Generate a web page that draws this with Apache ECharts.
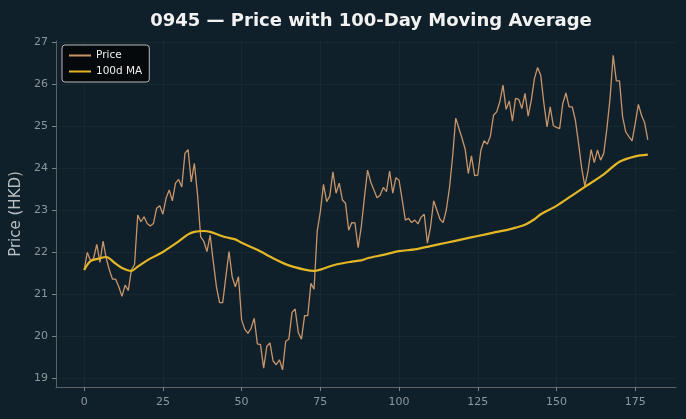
<!DOCTYPE html>
<html>
<head>
<meta charset="utf-8">
<script src="https://cdn.jsdelivr.net/npm/echarts@6/dist/echarts.min.js"></script>
<style>
  html, body { margin: 0; padding: 0; background: #10202a; }
  #chart { width: 686px; height: 419px; }
</style>
</head>
<body>
<div id="chart"></div>
<script>
// closing prices, one per trading day (index 0..179)
var price = [
  21.57, 21.99, 21.79, 21.85, 22.18, 21.75, 22.26, 21.85, 21.57, 21.35,
  21.35, 21.17, 20.94, 21.21, 21.08, 21.57, 21.70, 22.88, 22.72, 22.84,
  22.68, 22.62, 22.68, 23.04, 23.10, 22.90, 23.28, 23.48, 23.22, 23.64,
  23.73, 23.55, 24.35, 24.44, 23.67, 24.11, 23.36, 22.36, 22.25, 22.01,
  22.40, 21.77, 21.17, 20.79, 20.79, 21.41, 22.01, 21.41, 21.17, 21.41,
  20.38, 20.16, 20.06, 20.18, 20.42, 19.81, 19.79, 19.23, 19.75, 19.83,
  19.40, 19.31, 19.43, 19.19, 19.87, 19.92, 20.56, 20.64, 20.08, 19.92,
  20.48, 20.48, 21.25, 21.11, 22.49, 22.96, 23.61, 23.20, 23.33, 23.91,
  23.40, 23.64, 23.24, 23.16, 22.52, 22.70, 22.69, 22.10, 22.60, 23.30,
  23.95, 23.67, 23.48, 23.29, 23.35, 23.54, 23.44, 23.93, 23.40, 23.77,
  23.71, 23.24, 22.76, 22.80, 22.70, 22.76, 22.67, 22.83, 22.90, 22.21,
  22.60, 23.22, 23.00, 22.78, 22.70, 23.00, 23.52, 24.27, 25.19, 24.95,
  24.71, 24.45, 23.87, 24.29, 23.82, 23.83, 24.43, 24.65, 24.57, 24.76,
  25.26, 25.34, 25.58, 25.98, 25.40, 25.60, 25.12, 25.66, 25.64, 25.42,
  25.78, 25.24, 25.62, 26.14, 26.40, 26.21, 25.54, 24.98, 25.46, 25.01,
  24.97, 24.94, 25.54, 25.79, 25.46, 25.46, 25.14, 24.59, 24.00, 23.57,
  23.93, 24.44, 24.13, 24.43, 24.19, 24.35, 24.94, 25.66, 26.69, 26.08,
  26.08, 25.22, 24.86, 24.75, 24.65, 25.06, 25.52, 25.26, 25.08, 24.67
];

// 100-day moving average at these day indices
var maDays = [0, 2, 5, 7, 10, 12, 15, 17, 20, 25, 30, 33, 35, 38, 40, 43, 45, 48, 50, 55,
  60, 65, 70, 73, 75, 80, 85, 88, 90, 95, 100, 105, 110, 115, 120, 125, 130, 135, 137, 140,
  143, 145, 150, 155, 159, 165, 170, 175, 179];
var maValues = [21.57, 21.78, 21.85, 21.88, 21.72, 21.62, 21.55, 21.65, 21.80, 22.00,
  22.25, 22.42, 22.48, 22.50, 22.48, 22.40, 22.35, 22.30, 22.22, 22.05,
  21.85, 21.68, 21.58, 21.55, 21.58, 21.70, 21.77, 21.80, 21.85, 21.93,
  22.02, 22.06, 22.14, 22.22, 22.30, 22.38, 22.46, 22.54, 22.58, 22.65,
  22.78, 22.90, 23.10, 23.35, 23.55, 23.85, 24.15, 24.28, 24.32];

var xTicks = [0, 25, 50, 75, 100, 125, 150, 175];
var yTicks = [19, 20, 21, 22, 23, 24, 25, 26, 27];

var priceData = price.map(function (v, i) { return [i, v]; });
var maData = maDays.map(function (d, i) { return [d, maValues[i]]; });

var chart = echarts.init(document.getElementById('chart'));
var axisGray = '#8c979c';
var option = {
  backgroundColor: '#10202a',
  animation: false,
  textStyle: { fontFamily: 'DejaVu Sans' },
  title: {
    text: '0945 — Price with 100-Day Moving Average',
    left: 366,
    textAlign: 'center',
    top: 7,
    textStyle: { color: '#f2f2f2', fontSize: 18, fontWeight: 'bold', fontFamily: 'DejaVu Sans' }
  },
  legend: {
    orient: 'vertical',
    left: 62,
    top: 45,
    padding: [5, 7, 5, 7],
    itemGap: 5,
    itemWidth: 22,
    itemHeight: 2,
    icon: 'rect',
    backgroundColor: '#05090b',
    borderColor: '#b8b8b8',
    borderWidth: 1,
    borderRadius: 3,
    textStyle: { color: '#eeeeee', fontSize: 10.5, fontFamily: 'DejaVu Sans' },
    data: ['Price', '100d MA']
  },
  grid: { left: 56, right: 10, top: 41, bottom: 32 },
  xAxis: {
    type: 'value',
    min: -8.95,
    max: 187.95,
    axisLine: { show: true, onZero: false, lineStyle: { color: '#5a6266' } },
    axisTick: { show: true, length: 4, lineStyle: { color: '#7a8286' }, customValues: xTicks },
    axisLabel: { color: axisGray, fontSize: 11, margin: 10, customValues: xTicks },
    splitLine: { show: true, lineStyle: { color: '#18282f', width: 1 } }
  },
  yAxis: {
    type: 'value',
    min: 18.78,
    max: 27.03,
    name: 'Price (HKD)',
    nameLocation: 'middle',
    nameGap: 32,
    nameMoveOverlap: false,
    nameTextStyle: { color: '#b8bfc2', fontSize: 15, fontFamily: 'DejaVu Sans' },
    axisLine: { show: true, onZero: false, lineStyle: { color: '#5a6266' } },
    axisTick: { show: true, length: 4, lineStyle: { color: '#7a8286' }, customValues: yTicks },
    axisLabel: { color: axisGray, fontSize: 11, margin: 8, customValues: yTicks },
    splitLine: { show: true, lineStyle: { color: '#18282f', width: 1 } }
  },
  series: [
    {
      name: 'Price',
      type: 'line',
      data: priceData,
      symbol: 'none',
      lineStyle: { color: '#c8956a', width: 1.3 },
      itemStyle: { color: '#c8956a' },
      z: 2
    },
    {
      name: '100d MA',
      type: 'line',
      data: maData,
      symbol: 'none',
      smooth: 0.3,
      lineStyle: { color: '#e3b626', width: 2.2 },
      itemStyle: { color: '#e3b626' },
      z: 3
    }
  ]
};
chart.setOption(option);
</script>
</body>
</html>
